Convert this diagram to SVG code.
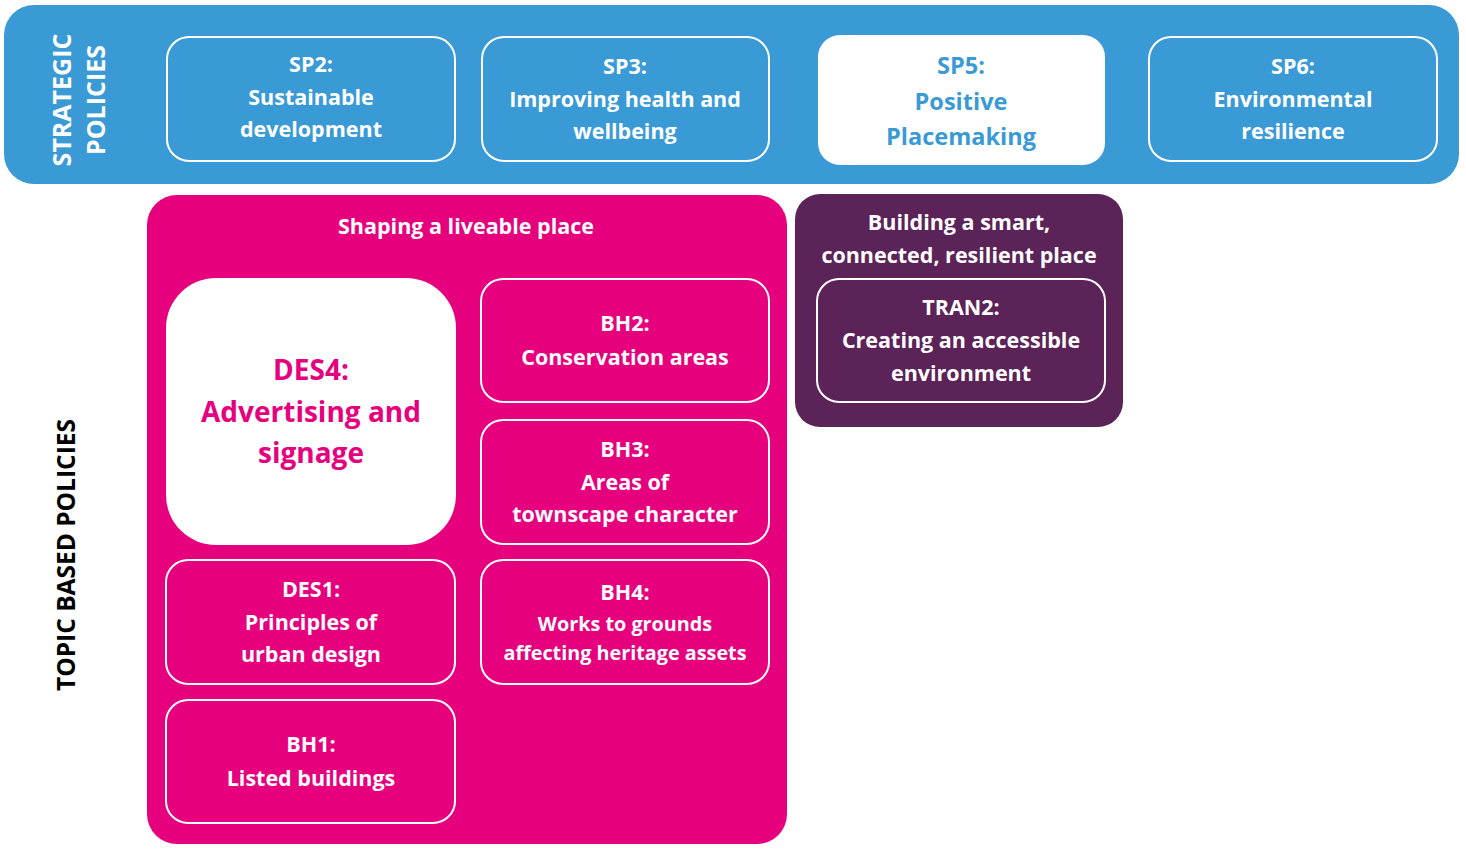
<svg xmlns="http://www.w3.org/2000/svg" width="1466" height="865" viewBox="0 0 1466 865">
<style>
.t{font-family:"Open Sans","Noto Sans","Liberation Sans",sans-serif;font-weight:700;text-anchor:middle;font-size:21.5px;fill:#fff}
.vl{font-size:25px}
.big{font-size:28px}
.mid{font-size:23.5px}
.sm{font-size:19.8px}
.box{fill:none;stroke:#fff;stroke-width:2}
.blue{fill:#3A9AD6}
.pink{fill:#E6007E}
.purple{fill:#5B2358}
.bt{fill:#3A9AD6}
.pt{fill:#E6007E}
.dk{fill:#000}
</style>
<rect width="1466" height="865" fill="#fff"/>
<g id="strategic">
<rect class="blue" x="4" y="5" width="1455" height="179" rx="30"/>
<text class="t vl" transform="translate(71,100) rotate(-90)">STRATEGIC</text>
<text class="t vl" transform="translate(105,100) rotate(-90)">POLICIES</text>
</g>
<g id="sp2">
<rect class="box" x="167" y="37" width="288" height="124" rx="22"/>
<text class="t" x="311" y="72">SP2:</text>
<text class="t" x="311" y="105">Sustainable</text>
<text class="t" x="311" y="137">development</text>
</g>
<g id="sp3">
<rect class="box" x="482" y="37" width="287" height="124" rx="22"/>
<text class="t" x="625" y="74">SP3:</text>
<text class="t" x="625" y="107">Improving health and</text>
<text class="t" x="625" y="139">wellbeing</text>
</g>
<g id="sp5">
<rect fill="#fff" x="818" y="35" width="287" height="130" rx="22"/>
<text class="t bt mid" x="961" y="74">SP5:</text>
<text class="t bt mid" x="961" y="110">Positive</text>
<text class="t bt mid" x="961" y="145">Placemaking</text>
</g>
<g id="sp6">
<rect class="box" x="1149" y="37" width="288" height="124" rx="22"/>
<text class="t" x="1293" y="74">SP6:</text>
<text class="t" x="1293" y="107">Environmental</text>
<text class="t" x="1293" y="139">resilience</text>
</g>
<g id="topic-label">
<text class="t dk" style="font-size:24.5px" transform="translate(75,555) rotate(-90)">TOPIC BASED POLICIES</text>
</g>
<g id="liveable">
<rect class="pink" x="147" y="195" width="640" height="649" rx="30"/>
<text class="t" x="466" y="234">Shaping a liveable place</text>
</g>
<g id="des4">
<rect fill="#fff" x="166" y="278" width="290" height="267" rx="50"/>
<text class="t pt big" x="311" y="380">DES4:</text>
<text class="t pt big" x="311" y="422">Advertising and</text>
<text class="t pt big" x="311" y="463">signage</text>
</g>
<g id="bh2">
<rect class="box" x="481" y="279" width="288" height="123" rx="22"/>
<text class="t" x="625" y="331">BH2:</text>
<text class="t" x="625" y="365">Conservation areas</text>
</g>
<g id="bh3">
<rect class="box" x="481" y="420" width="288" height="124" rx="22"/>
<text class="t" x="625" y="457">BH3:</text>
<text class="t" x="625" y="490">Areas of</text>
<text class="t" x="625" y="522">townscape character</text>
</g>
<g id="des1">
<rect class="box" x="166" y="560" width="289" height="124" rx="22"/>
<text class="t" x="311" y="597">DES1:</text>
<text class="t" x="311" y="630">Principles of</text>
<text class="t" x="311" y="662">urban design</text>
</g>
<g id="bh4">
<rect class="box" x="481" y="560" width="288" height="124" rx="22"/>
<text class="t" x="625" y="600">BH4:</text>
<text class="t sm" x="625" y="631">Works to grounds</text>
<text class="t sm" x="625" y="660">affecting heritage assets</text>
</g>
<g id="bh1">
<rect class="box" x="166" y="700" width="289" height="123" rx="22"/>
<text class="t" x="311" y="752">BH1:</text>
<text class="t" x="311" y="786">Listed buildings</text>
</g>
<g id="smart">
<rect class="purple" x="795" y="194" width="328" height="233" rx="25"/>
<text class="t" x="959" y="230">Building a smart,</text>
<text class="t" x="959" y="263">connected, resilient place</text>
</g>
<g id="tran2">
<rect class="box" x="817" y="279" width="288" height="123" rx="22"/>
<text class="t" x="961" y="315">TRAN2:</text>
<text class="t" x="961" y="348">Creating an accessible</text>
<text class="t" x="961" y="381">environment</text>
</g>
<g id="connectors"/>
</svg>
